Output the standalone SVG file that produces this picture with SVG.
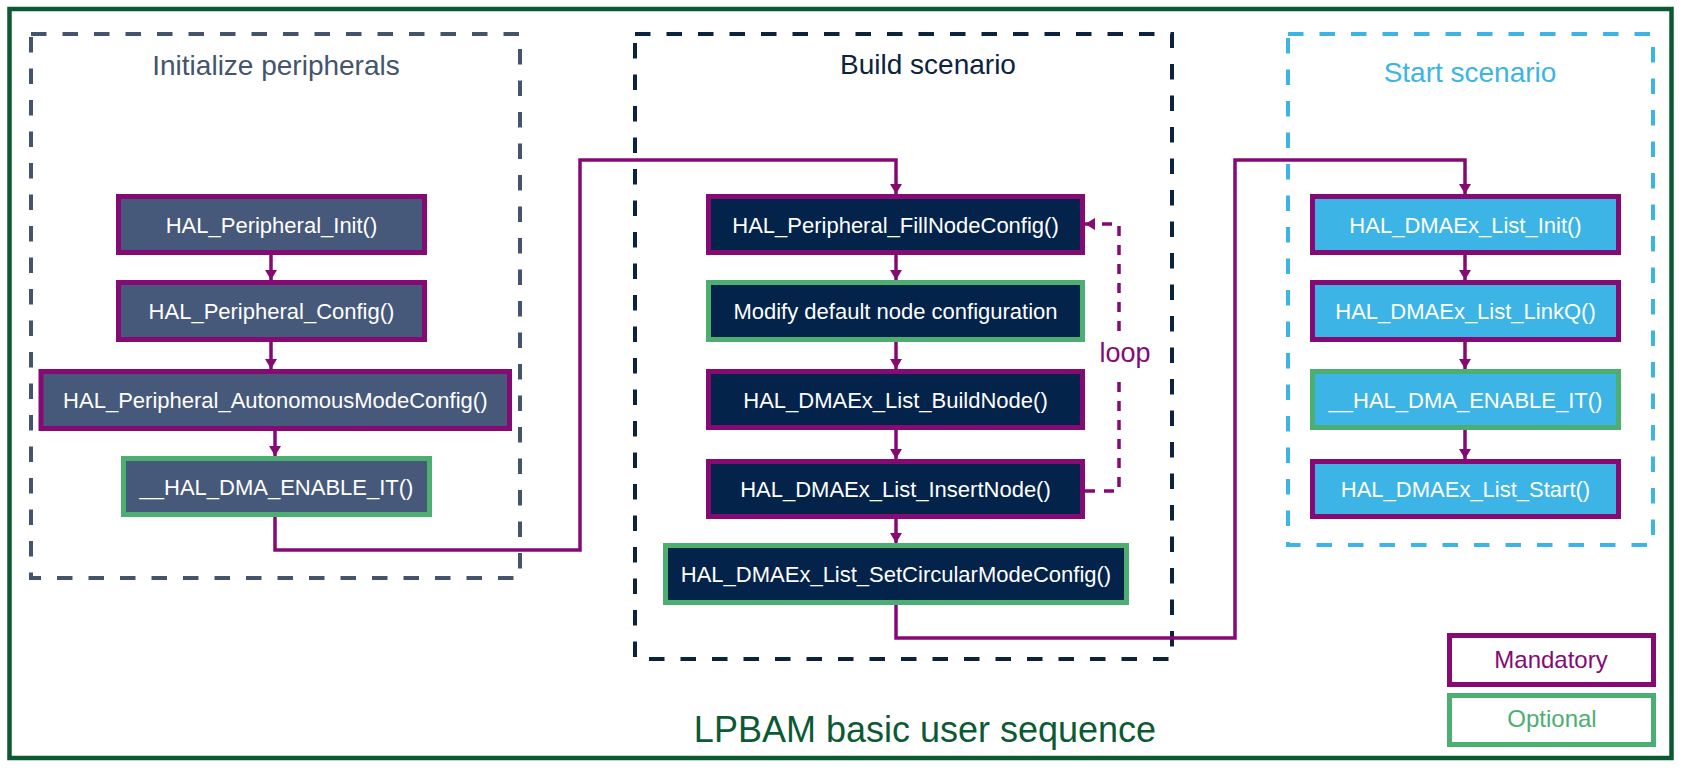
<svg xmlns="http://www.w3.org/2000/svg" width="1684" height="770" viewBox="0 0 1684 770">
<style>
text{font-family:"Liberation Sans",Arial,sans-serif}
.frame{fill:none;stroke:#0b5a34;stroke-width:4.5}
.grp{fill:none;stroke-width:4;stroke-dasharray:15.5 16}
.title{font-size:28px;text-anchor:middle}
.m{stroke:#860a74;stroke-width:5}
.o{stroke:#4cae71;stroke-width:5}
.fi{fill:#46597a}
.fb{fill:#03234b}
.fs{fill:#3cb4e5}
.nt{font-size:22px;fill:#ffffff;text-anchor:middle}
.c{fill:none;stroke:#860a74;stroke-width:3.5}
.loop{fill:none;stroke:#860a74;stroke-width:3.5;stroke-dasharray:10 9}
</style>
<defs>
<marker id="ah" markerUnits="userSpaceOnUse" markerWidth="10" markerHeight="12" refX="10" refY="6" orient="auto">
<path d="M0,0 L10,6 L0,12 z" fill="#860a74"/>
</marker>
</defs>
<rect class="frame" x="9.5" y="9" width="1662" height="749"/>
<g id="group-init">
<rect class="grp" x="31" y="34" width="489" height="544" stroke="#44546a"/>
<text class="title" x="276" y="75" fill="#44546a">Initialize peripherals</text>
</g>
<g id="group-build">
<rect class="grp" x="635" y="34" width="537" height="625" stroke="#0c2340"/>
<text class="title" x="928" y="74" fill="#0c2340">Build scenario</text>
</g>
<g id="group-start">
<rect class="grp" x="1288" y="34" width="365" height="511" stroke="#3cb4e5"/>
<text class="title" x="1470" y="82" fill="#3cb4e5">Start scenario</text>
</g>
<g id="connectors">
<path class="c" d="M271,255 V280" marker-end="url(#ah)"/>
<path class="c" d="M271,342 V369" marker-end="url(#ah)"/>
<path class="c" d="M275,431 V456" marker-end="url(#ah)"/>
<path class="c" d="M275,517 V550 H580 V160 H896 V194" marker-end="url(#ah)"/>
<path class="c" d="M896,255 V280" marker-end="url(#ah)"/>
<path class="c" d="M896,342 V369" marker-end="url(#ah)"/>
<path class="c" d="M896,430 V459" marker-end="url(#ah)"/>
<path class="c" d="M896,519 V543" marker-end="url(#ah)"/>
<path class="c" d="M896,605 V638 H1235 V160 H1465 V194" marker-end="url(#ah)"/>
<path class="c" d="M1465,255 V280" marker-end="url(#ah)"/>
<path class="c" d="M1465,342 V369" marker-end="url(#ah)"/>
<path class="c" d="M1465,430 V459" marker-end="url(#ah)"/>
<path class="loop" d="M1085,491 H1119 V376"/>
<path class="loop" d="M1119,331 V224 H1085" marker-end="url(#ah)"/>
<text x="1125" y="362" font-size="27" fill="#860a74" text-anchor="middle">loop</text>
</g>
<g id="n-periph-init">
<rect class="m fi" x="118.5" y="196.5" width="306" height="56"/>
<text class="nt" x="271.5" y="232.5">HAL_Peripheral_Init()</text>
</g>
<g id="n-periph-config">
<rect class="m fi" x="118.5" y="282.5" width="306" height="57"/>
<text class="nt" x="271.5" y="319">HAL_Peripheral_Config()</text>
</g>
<g id="n-periph-auto">
<rect class="m fi" x="41" y="371.5" width="468.5" height="57"/>
<text class="nt" x="275.3" y="408">HAL_Peripheral_AutonomousModeConfig()</text>
</g>
<g id="n-init-enable-it">
<rect class="o fi" x="123.5" y="458.5" width="306" height="56"/>
<text class="nt" x="276.5" y="494.5">__HAL_DMA_ENABLE_IT()</text>
</g>
<g id="n-fillnode">
<rect class="m fb" x="708.5" y="196.5" width="374" height="56"/>
<text class="nt" x="895.5" y="232.5">HAL_Peripheral_FillNodeConfig()</text>
</g>
<g id="n-modify">
<rect class="o fb" x="708.5" y="282.5" width="374" height="57"/>
<text class="nt" x="895.5" y="319">Modify default node configuration</text>
</g>
<g id="n-buildnode">
<rect class="m fb" x="708.5" y="371.5" width="374" height="56"/>
<text class="nt" x="895.5" y="407.5">HAL_DMAEx_List_BuildNode()</text>
</g>
<g id="n-insertnode">
<rect class="m fb" x="708.5" y="461.5" width="374" height="55"/>
<text class="nt" x="895.5" y="497">HAL_DMAEx_List_InsertNode()</text>
</g>
<g id="n-circular">
<rect class="o fb" x="665.5" y="545.5" width="461" height="57"/>
<text class="nt" x="896" y="582">HAL_DMAEx_List_SetCircularModeConfig()</text>
</g>
<g id="n-list-init">
<rect class="m fs" x="1312.5" y="196.5" width="306" height="56"/>
<text class="nt" x="1465.5" y="232.5">HAL_DMAEx_List_Init()</text>
</g>
<g id="n-linkq">
<rect class="m fs" x="1312.5" y="282.5" width="306" height="57"/>
<text class="nt" x="1465.5" y="319">HAL_DMAEx_List_LinkQ()</text>
</g>
<g id="n-start-enable-it">
<rect class="o fs" x="1312.5" y="371.5" width="306" height="56"/>
<text class="nt" x="1465.5" y="407.5">__HAL_DMA_ENABLE_IT()</text>
</g>
<g id="n-list-start">
<rect class="m fs" x="1312.5" y="461.5" width="306" height="55"/>
<text class="nt" x="1465.5" y="497">HAL_DMAEx_List_Start()</text>
</g>
<g id="legend-mandatory">
<rect class="m" fill="#ffffff" x="1449.5" y="635.5" width="204" height="49"/>
<text x="1551" y="668" font-size="24" fill="#860a74" text-anchor="middle">Mandatory</text>
</g>
<g id="legend-optional">
<rect class="o" fill="#ffffff" x="1449.5" y="695.5" width="204" height="49"/>
<text x="1552" y="727" font-size="24" fill="#4cae71" text-anchor="middle">Optional</text>
</g>
<text x="925" y="742" font-size="36" fill="#0b5a34" text-anchor="middle">LPBAM basic user sequence</text>
</svg>
